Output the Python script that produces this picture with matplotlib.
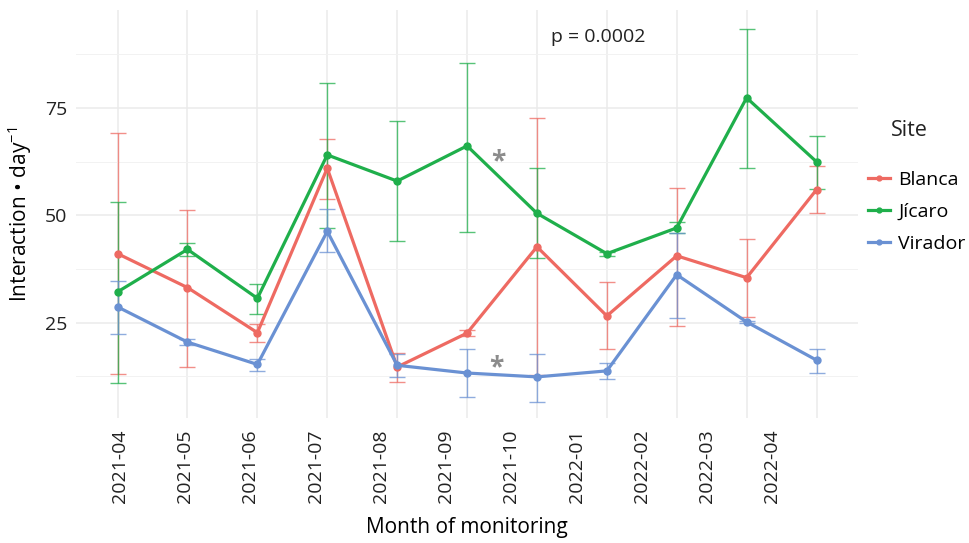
import numpy as np
import matplotlib
matplotlib.use("Agg")
from matplotlib import pyplot as plt
from matplotlib.ticker import FixedLocator, NullFormatter

plt.rcParams["font.family"] = ["Open Sans", "DejaVu Sans"]
plt.rcParams["mathtext.fontset"] = "custom"
plt.rcParams["mathtext.rm"] = "Open Sans"

# data
months = ["2021-04", "2021-05", "2021-06", "2021-07", "2021-08", "2021-09",
          "2021-10", "2022-01", "2022-02", "2022-03", "2022-04"]
sites = ["Blanca", "Jícaro", "Virador"]

blanca = [41.1, 33.2, 22.7, 61.0, 14.7, 22.6, 42.7, 26.6, 40.6, 35.5, 56.0]
blanca_hi = [69.1, 51.2, 24.8, 67.9, 18.0, 23.3, 72.6, 34.4, 56.5, 44.5, 61.6]
blanca_lo = [13.0, 14.7, 20.5, 53.9, 11.2, 21.9, 12.8, 18.8, 24.3, 26.4, 50.5]

jicaro = [32.2, 42.1, 30.7, 64.1, 58.0, 66.2, 50.5, 41.1, 47.1, 77.4, 62.5]
jicaro_hi = [53.1, 43.5, 34.1, 80.9, 71.9, 85.6, 61.1, 41.6, 48.4, 93.4, 68.6]
jicaro_lo = [11.0, 40.6, 27.0, 47.0, 44.0, 46.2, 40.0, 40.6, 45.8, 61.1, 56.1]

virador = [28.7, 20.5, 15.3, 46.3, 15.1, 13.3, 12.4, 13.8, 36.2, 25.2, 16.3]
virador_hi = [34.8, 21.2, 16.6, 51.5, 17.8, 18.8, 17.8, 15.6, 45.8, 25.5, 19.0]
virador_lo = [22.3, 19.9, 13.7, 41.5, 12.4, 7.7, 6.6, 11.8, 26.1, 24.9, 13.4]

colors = ["#EE6A62", "#1FAF4B", "#6A91D3"]

p_text = "p = 0.0002"
p_pos = (6.88, 91.6)
stars = [(5.45, 62.6), (5.42, 14.6)]


def plot_site(ax, x, y, lo, hi, color, label):
    y = np.array(y)
    err = [y - np.array(lo), np.array(hi) - y]
    ax.errorbar(x, y, yerr=err, fmt="none", ecolor=color, elinewidth=1.0,
                capsize=6, capthick=1.0, alpha=0.75, zorder=2)
    ax.plot(x, y, "-o", color=color, lw=2.3, markersize=5, label=label, zorder=3)


def main():
    fig = plt.figure(figsize=(9.7, 5.43), dpi=100)
    ax = fig.add_axes([0.078, 0.230, 0.807, 0.752])
    x = np.arange(len(months))

    plot_site(ax, x, blanca, blanca_lo, blanca_hi, colors[0], sites[0])
    plot_site(ax, x, jicaro, jicaro_lo, jicaro_hi, colors[1], sites[1])
    plot_site(ax, x, virador, virador_lo, virador_hi, colors[2], sites[2])

    ax.text(p_pos[0], p_pos[1], p_text, fontsize=14, ha="center", va="center",
            color="#222222")
    for sx, sy in stars:
        ax.text(sx, sy, "*", fontsize=19, ha="center", va="center",
                color="#8C8C8C", fontweight="bold")

    ax.set_xlim(-0.6, len(months) - 0.4)
    ax.set_ylim(2.8, 97.9)

    # grid at the data positions, labels slightly shifted as in the reference
    ax.xaxis.set_major_locator(FixedLocator(x))
    ax.xaxis.set_major_formatter(NullFormatter())
    label_pos = 0.03 + x * 0.934
    ax.xaxis.set_minor_locator(FixedLocator(label_pos))
    ax.set_xticklabels(months, minor=True, rotation=90, fontsize=14,
                       color="#222222")
    ax.set_yticks([25, 50, 75])
    ax.set_yticks([12.5, 37.5, 62.5, 87.5], minor=True)
    ax.tick_params(axis="both", which="both", length=0)
    ax.tick_params(axis="x", which="minor", pad=8)
    ax.tick_params(axis="y", labelsize=14, labelcolor="#222222", pad=6)

    ax.grid(True, which="major", color="#EBEBEB", lw=1.1)
    ax.grid(True, which="minor", axis="y", color="#F2F2F2", lw=0.7)
    ax.set_axisbelow(True)
    for s in ax.spines.values():
        s.set_visible(False)

    ax.set_xlabel("Month of monitoring", fontsize=15, labelpad=10)
    ax.set_ylabel("Interaction • day$^{-1}$", fontsize=15, labelpad=8)

    fig.text(0.938, 1 - 130 / 543, "Site", fontsize=15.5, ha="center",
             va="center", color="#222222")
    fig.legend(loc="center left", bbox_to_anchor=(0.895, 1 - 212 / 543),
               frameon=False, fontsize=14, handlelength=1.1,
               handletextpad=0.45, borderpad=0, borderaxespad=0,
               markerscale=0.7, labelspacing=0.72)

    fig.savefig("out.png", dpi=100)


if __name__ == "__main__":
    main()
